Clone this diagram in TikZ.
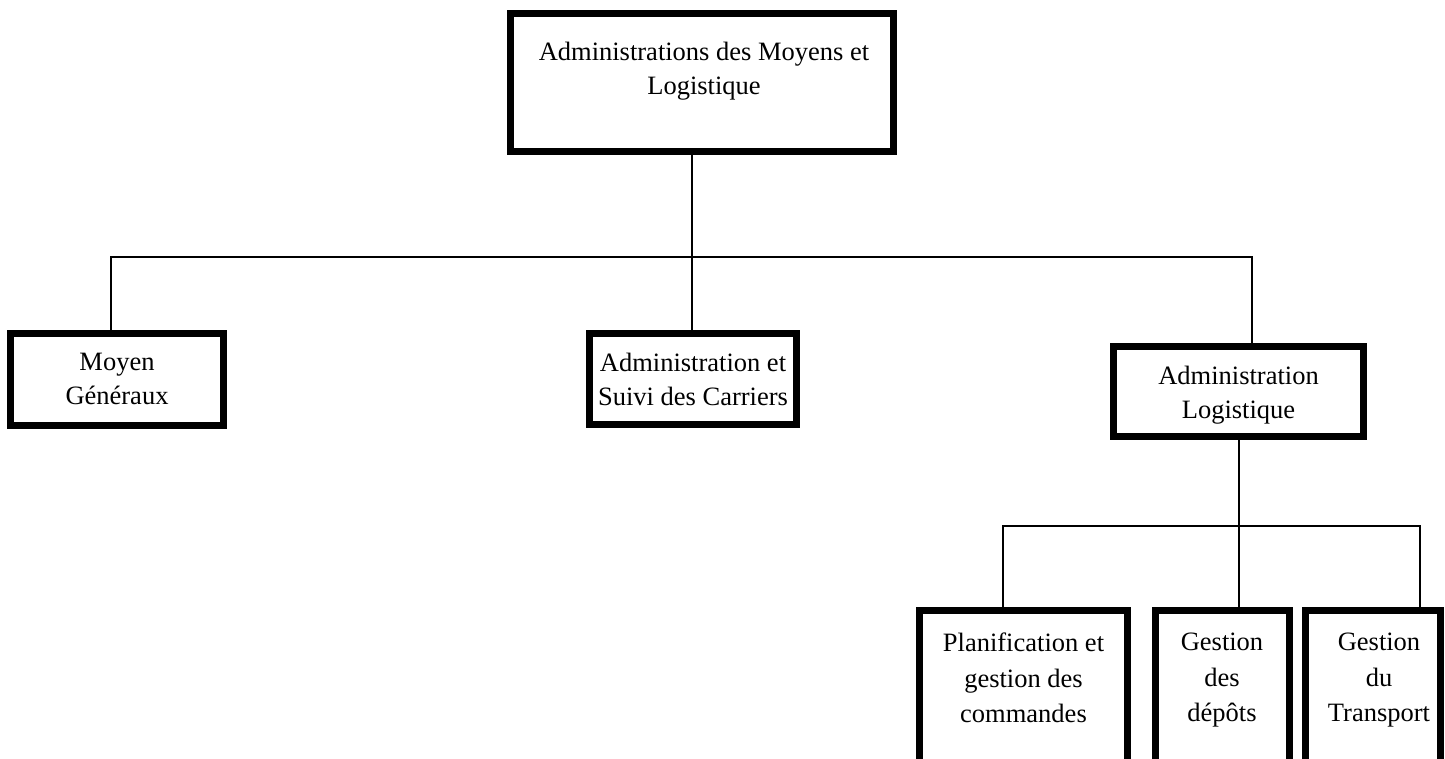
\documentclass[tikz,border=0pt]{standalone}
\usepackage{fontspec}
\setmainfont{Liberation Serif}
\begin{document}
\begin{tikzpicture}[x=1pt,y=-1pt,
  box/.style={draw=black, line width=7pt, inner sep=0pt, outer sep=0pt, fill=white},
  txt/.style={inner sep=0pt, align=center, anchor=north, font=\fontsize{26.5}{34}\selectfont},
  conn/.style={draw=black, line width=1.4pt}]
\useasboundingbox (0,0) rectangle (1445,758);
\fill[white] (0,0) rectangle (1445,758);
\clip (0,0) rectangle (1445,758);
% connectors
\coordinate (hM) at (692,257);
\coordinate (hL) at (111,257);
\coordinate (hR) at (1252,257);
\coordinate (g) at (1239,526);
\coordinate (gL) at (1003,526);
\coordinate (gR) at (1420,526);
% boxes
\node[box, minimum width=383pt, minimum height=138pt] (top) at (702,82.5) {};
\node[box, minimum width=213pt, minimum height=92pt] (moyen) at (117,379.5) {};
\node[box, minimum width=207pt, minimum height=91pt] (suivi) at (693,379) {};
\node[box, minimum width=250pt, minimum height=90pt] (logi) at (1238.5,391.5) {};
\node[box, minimum width=208pt, minimum height=190pt] (plan) at (1023.5,705.5) {};
\node[box, minimum width=134pt, minimum height=190pt] (dep) at (1222.5,705.5) {};
\node[box, minimum width=135pt, minimum height=190pt] (trans) at (1373,705.5) {};
% connector lines
\draw[conn] (top.south -| hM) -- (hM);
\draw[conn] (moyen.north -| hL) -- (hL) -- (hR) -- (logi.north -| hR);
\draw[conn] (hM) -- (suivi.north -| hM);
\draw[conn] (logi.south -| g) -- (g);
\draw[conn] (plan.north -| gL) -- (gL) -- (gR) -- (trans.north -| gR);
\draw[conn] (g) -- (dep.north -| g);
% texts
\node[txt] (ttop) at (704,42) {Administrations des Moyens et\\Logistique};
\node[txt] (tmoyen) at (117,353) {Moyen\\Généraux};
\node[txt] (tsuivi) at (693,353) {Administration et\\Suivi des Carriers};
\node[txt] (tlogi) at (1238.5,366) {Administration\\Logistique};
\node[txt, font=\fontsize{26.5}{35.5}\selectfont] (tplan) at (1023.5,633) {Planification et\\gestion des\\commandes};
\node[txt, font=\fontsize{26.5}{35.5}\selectfont] (tdep) at (1222,633) {Gestion\\des\\dépôts};
\node[txt, font=\fontsize{26.5}{35.5}\selectfont] (ttrans) at (1379,633) {Gestion\\du\\Transport};
\end{tikzpicture}
\end{document}
